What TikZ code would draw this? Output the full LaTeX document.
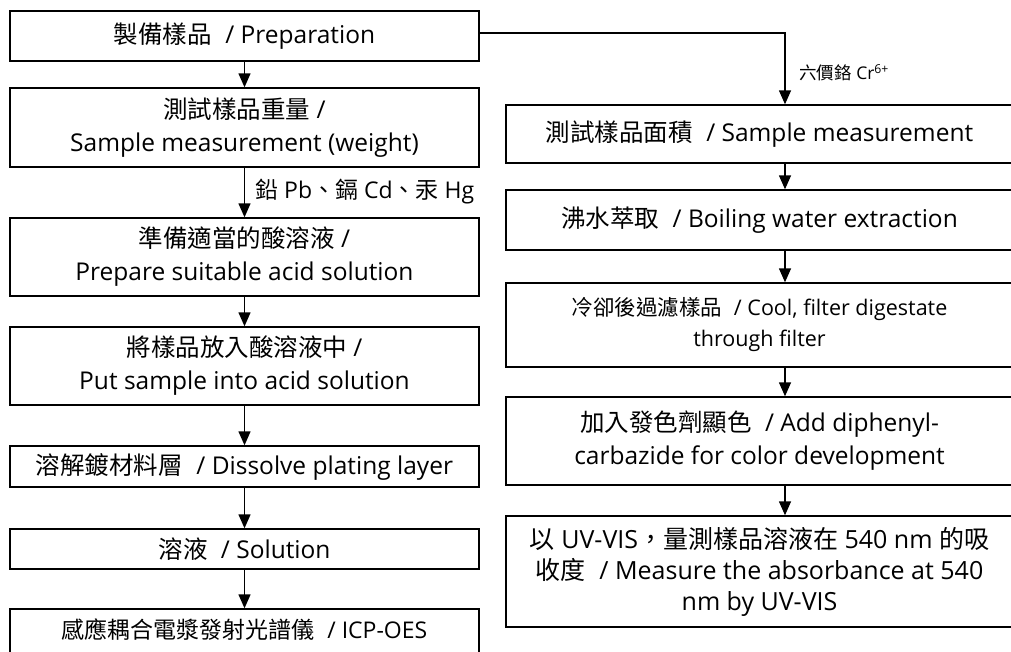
\documentclass[tikz,border=0pt]{standalone}
\usepackage{fontspec}
\setmainfont{Open Sans}
\newfontfamily\cjkfont{Noto Sans CJK TC}
\newcommand{\C}[1]{{\cjkfont #1}}
\newcommand{\sepsl}{\hspace{0.55em}/ }
\usetikzlibrary{arrows.meta}
\begin{document}
\begin{tikzpicture}[x=1pt,y=-1pt,
  box/.style={draw, line width=1.4pt, inner sep=0pt, align=center, font=\fontsize{24.5}{33}\selectfont},
  smallbox/.style={box, font=\fontsize{21.5}{31}\selectfont},
  arr/.style={line width=1.4pt, -{Triangle[width=12pt,length=14pt]}},
  lbl/.style={anchor=west, inner sep=0pt},
]
\useasboundingbox (0,0) rectangle (1011,651);
% left column
\node[box, minimum width=469pt, minimum height=50pt] (L1) at (244.5,36) {\C{製備樣品}\sepsl Preparation};
\node[box, minimum width=469pt, minimum height=79pt] (L2) at (244.5,127.5) {\C{測試樣品重量} /\\Sample measurement (weight)};
\node[box, minimum width=469pt, minimum height=78pt] (L3) at (244.5,257) {\C{準備適當的酸溶液} /\\Prepare suitable acid solution};
\node[box, minimum width=469pt, minimum height=78pt] (L4) at (244.5,366) {\C{將樣品放入酸溶液中} /\\Put sample into acid solution};
\node[box, minimum width=469pt, minimum height=41pt] (L5) at (244.5,466.5) {\C{溶解鍍材料層}\sepsl Dissolve plating layer};
\node[box, minimum width=469pt, minimum height=40pt] (L6) at (244.5,549) {\C{溶液}\sepsl Solution};
\node[box, minimum width=469pt, minimum height=60pt] (L7) at (244.5,639) {};
\node[box, draw=none, font=\fontsize{23}{26}\selectfont] (L7t) at (244.5,630) {\C{感應耦合電漿發射光譜儀}\sepsl ICP-OES};
% right column
\node[box, minimum width=507pt, minimum height=58pt] (R1) at (759.5,134) {\C{測試樣品面積}\sepsl Sample measurement};
\node[box, minimum width=507pt, minimum height=60pt] (R2) at (759.5,220) {\C{沸水萃取}\sepsl Boiling water extraction};
\node[smallbox, minimum width=507pt, minimum height=84pt] (R3) at (759.5,325) {\C{冷卻後過濾樣品}\sepsl Cool, filter digestate\\through filter};
\node[box, minimum width=507pt, minimum height=88pt] (R4) at (759.5,441) {\C{加入發色劑顯色}\sepsl Add diphenyl-\\carbazide for color development};
\node[box, minimum width=507pt, minimum height=111pt, font=\fontsize{25}{31}\selectfont] (R5) at (759.5,571.5) {\C{以} UV-VIS\C{，量測樣品溶液在} 540 nm \C{的吸}\\\C{收度}\sepsl Measure the absorbance at 540\\nm by UV-VIS};
\coordinate (rx) at (785,0);
% left arrows
\draw[arr] (L1.south) -- (L2.north);
\draw[arr] (L2.south) -- (L3.north);
\draw[arr] (L3.south) -- (L4.north);
\draw[arr] (L4.south) -- (L5.north);
\draw[arr] (L5.south) -- (L6.north);
\draw[arr] (L6.south) -- (L7.north);
\node[lbl, font=\fontsize{23}{26}\selectfont] (lab1) at (255,192) {\C{鉛} Pb\C{、鎘} Cd\C{、汞} Hg};
% branch
\coordinate (bs) at ([yshift=3pt]L1.east);
\draw[arr] (bs) -- (bs -| rx) -- (R1.north -| rx);
\node[lbl, font=\fontsize{17.5}{20}\selectfont] (lab2) at (799,73) {\C{六價鉻} Cr\textsuperscript{6+}};
% right arrows
\draw[arr] (R1.south -| rx) -- (R2.north -| rx);
\draw[arr] (R2.south -| rx) -- (R3.north -| rx);
\draw[arr] (R3.south -| rx) -- (R4.north -| rx);
\draw[arr] (R4.south -| rx) -- (R5.north -| rx);
\end{tikzpicture}
\end{document}
